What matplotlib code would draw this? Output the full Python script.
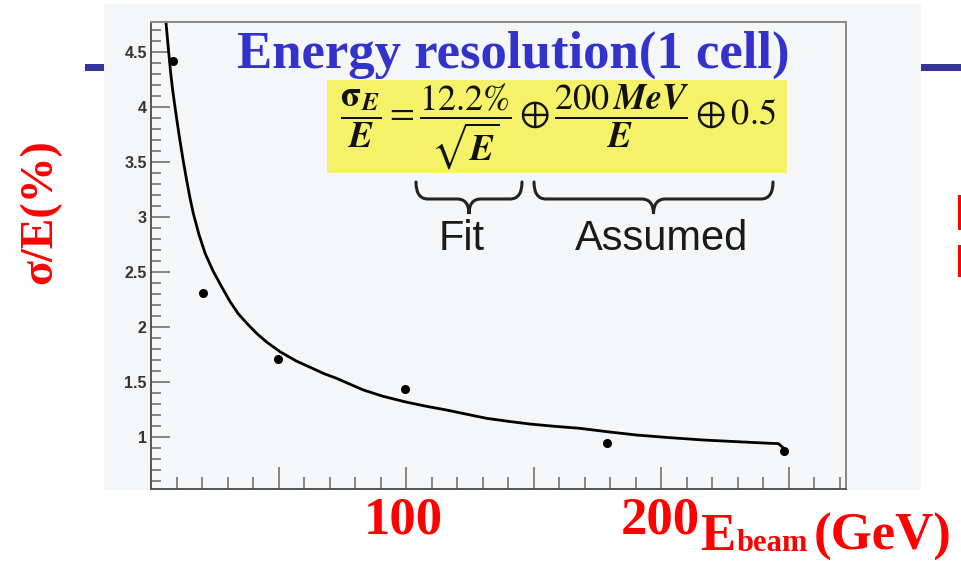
import matplotlib
matplotlib.use("Agg")
import matplotlib.pyplot as plt
from matplotlib.patches import Rectangle, PathPatch
from matplotlib.path import Path
from matplotlib.ticker import MultipleLocator, FuncFormatter

# ---- data ----
beam_energy = [8.7, 20.3, 49.9, 99.6, 178.9, 248.2]          # GeV
resolution = [4.42, 2.31, 1.71, 1.44, 0.943, 0.876]          # sigma/E (%)

fit_energy = [5.9, 6.8, 7.7, 8.5, 9.4, 10.2, 11.1, 12.7, 14.0, 15.3, 16.6,
              18.8, 21.2, 24.3, 27.7, 31.0, 34.2, 37.7, 41.5, 45.5, 50.6,
              57.0, 63.7, 67.9, 72.8, 78.0, 83.3, 91.0, 99.6, 107.8, 116.0,
              123.8, 131.6, 140.0, 148.6, 158.0, 168.2, 179.0, 190.5, 203.0,
              216.6, 229.5, 242.7, 246.0, 248.0]
fit_resolution = [4.76, 4.53, 4.31, 4.15, 4.00, 3.87, 3.73, 3.50, 3.33, 3.17,
                  3.03, 2.84, 2.67, 2.51, 2.365, 2.23, 2.12, 2.03, 1.94, 1.86,
                  1.775, 1.69, 1.62, 1.575, 1.533, 1.48, 1.427, 1.37, 1.32,
                  1.28, 1.245, 1.207, 1.17, 1.143, 1.118, 1.098, 1.079, 1.048,
                  1.018, 0.995, 0.973, 0.958, 0.943, 0.94, 0.90]

x_label_ticks = ["100", "200"]
title = "Energy resolution(1 cell)"
ylabel = "σ/E(%)"

W, H = 961, 562
fig = plt.figure(figsize=(W / 100, H / 100), dpi=100)
fig.patch.set_facecolor("white")

# background overlay (pixel coordinates)
bg = fig.add_axes([0, 0, 1, 1], zorder=0)
bg.set_xlim(0, W); bg.set_ylim(H, 0); bg.axis("off")
bg.add_patch(Rectangle((85, 64), 19, 7, color="#343499", lw=0))
bg.add_patch(Rectangle((921, 64), 40, 7, color="#343499", lw=0))
bg.add_patch(Rectangle((104, 4), 817, 486, color="#f4f5f7", lw=0))
bg.add_patch(Rectangle((958, 195), 3, 35, color="red", lw=0))
bg.add_patch(Rectangle((958, 245), 3, 32, color="red", lw=0))

# data axes
ax = fig.add_axes([151 / W, 1 - 489 / H, (846 - 151) / W, (489 - 22) / H], zorder=1)
ax.set_facecolor("#f5f6f8")
ax.plot(fit_energy, fit_resolution, color="black", lw=2.0, solid_joinstyle="round",
        solid_capstyle="round")
ax.plot(beam_energy, resolution, "o", color="black", ms=5.5)
ax.set_xlim(0, 272.5)
ax.set_ylim(0.528, 4.77)
ax.xaxis.set_major_locator(MultipleLocator(50))
ax.xaxis.set_minor_locator(MultipleLocator(10))
ax.yaxis.set_major_locator(MultipleLocator(0.5))
ax.yaxis.set_minor_locator(MultipleLocator(0.1))
ax.yaxis.set_major_formatter(FuncFormatter(lambda v, p: f"{v:g}"))
ax.tick_params(axis="x", which="major", direction="in", length=15.5, width=1.1,
               color="#666666", labelbottom=False)
ax.tick_params(axis="x", which="minor", direction="in", length=9, width=1.1,
               color="#666666")
ax.tick_params(axis="y", which="major", direction="in", length=13.5, width=1.1,
               color="#666666", pad=3, labelsize=11.5, labelcolor="#333333")
ax.tick_params(axis="y", which="minor", direction="in", length=7.5, width=1.1,
               color="#666666")
for lab in ax.get_yticklabels():
    lab.set_fontweight("bold")
    lab.set_family("Liberation Sans")
for s in ax.spines.values():
    s.set_color("#888888")
    s.set_linewidth(1.4)
ax.spines["left"].set_color("#555555")
ax.spines["bottom"].set_color("#555555")

# foreground overlay (pixel coordinates)
fg = fig.add_axes([0, 0, 1, 1], zorder=3)
fg.set_xlim(0, W); fg.set_ylim(H, 0); fg.axis("off")
fg.patch.set_alpha(0)

serif = "Liberation Serif"
fg.text(513, 68, title, color="#3333cc", fontsize=38, fontweight="bold",
        family=serif, ha="center", va="baseline")

fg.add_patch(Rectangle((327, 80), 460, 93, color="#f5f26a", lw=0))
plt.rcParams["mathtext.fontset"] = "stix"
fg.text(558, 127,
        r"$\dfrac{\mathbf{\sigma}_{\mathbfit{E}}}{\mathbfit{E}}=\dfrac{12.2\%}{\sqrt{\mathbfit{E}}}\oplus\dfrac{200\,\mathbfit{MeV}}{\mathbfit{E}}\oplus0.5$",
        fontsize=26, ha="center", va="center", color="#111111")

def brace(x0, x1, ytop, ymid, ytip):
    xm = (x0 + x1) / 2
    r = 12
    verts = [(x0, ytop), (x0, ymid), (x0 + r, ymid),
             (xm - r, ymid),
             (xm, ymid), (xm, ytip),
             (xm, ymid), (xm + r, ymid),
             (x1 - r, ymid),
             (x1, ymid), (x1, ytop)]
    codes = [Path.MOVETO, Path.CURVE3, Path.CURVE3,
             Path.LINETO,
             Path.CURVE3, Path.CURVE3,
             Path.CURVE3, Path.CURVE3,
             Path.LINETO,
             Path.CURVE3, Path.CURVE3]
    fg.add_patch(PathPatch(Path(verts, codes), fill=False, lw=2.2, color="#222222",
                           capstyle="round"))

brace(416, 522, 182, 199, 214)
brace(534, 773, 182, 199, 214)
fg.text(462, 250, "Fit", family="Liberation Sans", fontsize=30, ha="center",
        va="baseline", color="#1a1a1a")
fg.text(662, 250, "Assumed", family="Liberation Sans", fontsize=30, ha="center",
        va="baseline", color="#1a1a1a")

# red overlay labels
fg.text(40, 212, ylabel, color="red", fontsize=33, fontweight="bold", family=serif,
        rotation=90, ha="center", va="center")
fg.text(403, 533, x_label_ticks[0], color="red", fontsize=38, fontweight="bold",
        family=serif, ha="center", va="baseline")
fg.text(660, 533, x_label_ticks[1], color="red", fontsize=38, fontweight="bold",
        family=serif, ha="center", va="baseline")
fg.text(700, 550, "E", color="red", fontsize=38, fontweight="bold",
        family=serif, ha="left", va="baseline")
fg.text(737, 551, "beam", color="red", fontsize=22, fontweight="bold",
        family=serif, ha="left", va="baseline")
fg.text(952, 550, "(GeV)", color="red", fontsize=38, fontweight="bold",
        family=serif, ha="right", va="baseline")

fig.savefig("out.png", dpi=100, facecolor="white")
